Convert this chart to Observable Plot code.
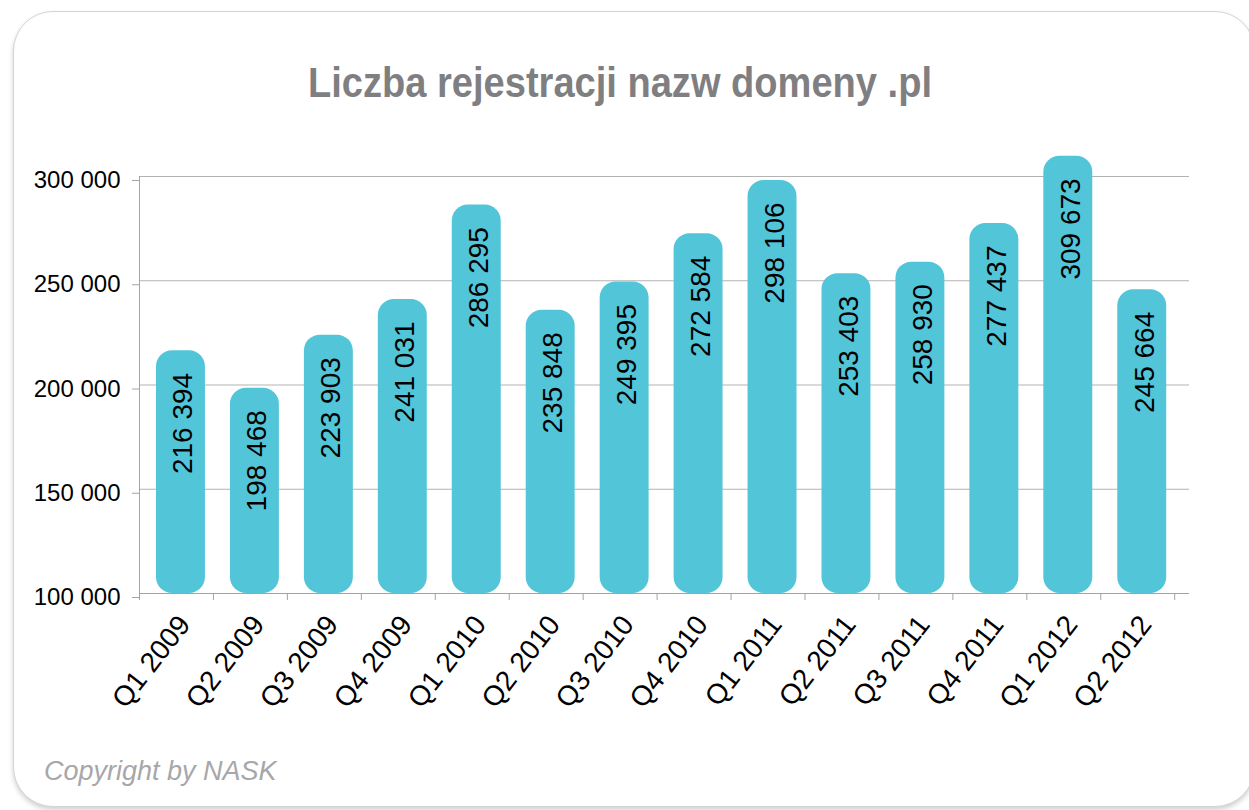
<!DOCTYPE html>
<html>
<head>
<meta charset="utf-8">
<script src="https://cdn.jsdelivr.net/npm/d3@7"></script>
<script src="https://cdn.jsdelivr.net/npm/@observablehq/plot@0.6"></script>
<style>
  html, body { margin: 0; padding: 0; background: #ffffff; width: 1249px; height: 810px; overflow: hidden; }
  #card { position: absolute; left: 13px; top: 11px; width: 1240px; height: 794px; border: 1px solid #d4d4d4; border-radius: 40px; box-shadow: 0 3px 5px rgba(0,0,0,0.18); background: #fff; }
  #title { position: absolute; left: 308px; top: 62px; font-family: "Liberation Sans", Arial, sans-serif; font-weight: bold; font-size: 42px; line-height: 42px; color: #7f7f82; white-space: nowrap; transform-origin: 0 0; }
  #chart { position: absolute; left: 0; top: 0; }
  #copy { position: absolute; left: 44px; top: 758px; font-family: "Liberation Sans", Arial, sans-serif; font-style: italic; font-size: 27px; line-height: 26px; color: #a7a7a9; white-space: nowrap; }
</style>
</head>
<body>
<div id="card"></div>
<div id="title">Liczba rejestracji nazw domeny .pl</div>
<div id="chart"></div>
<div id="copy">Copyright by NASK</div>
<script>
const categories = ["Q1 2009","Q2 2009","Q3 2009","Q4 2009","Q1 2010","Q2 2010","Q3 2010","Q4 2010","Q1 2011","Q2 2011","Q3 2011","Q4 2011","Q1 2012","Q2 2012"];
const values = [216394,198468,223903,241031,286295,235848,249395,272584,298106,253403,258930,277437,309673,245664];
const yTicks = [100000,150000,200000,250000,300000];
const yDomain = [100000, 300000];

const data = categories.map((c, i) => ({cat: c, i, value: values[i]}));
const fmt = v => d3.format(",")(v).replace(/,/g, " ");
const edges = d3.range(categories.length + 1);
const centers = categories.map((c, i) => i + 0.5);

const title = document.getElementById("title");
const tw = title.getBoundingClientRect().width;
title.style.transform = `scaleX(${624 / tw})`;

const chart = Plot.plot({
  width: 1249,
  height: 740,
  marginLeft: 139,
  marginRight: 60,
  marginTop: 176,
  marginBottom: 147,
  style: {fontFamily: "'Liberation Sans', Arial, sans-serif", fontSize: "24px", background: "transparent", color: "#000", overflow: "visible"},
  x: {type: "linear", domain: [0, categories.length + 0.2]},
  y: {domain: yDomain},
  marks: [
    Plot.gridY(yTicks.slice(1), {stroke: "#b3b3b3", strokeOpacity: 1, strokeWidth: 1}),
    Plot.ruleY([yDomain[0]], {stroke: "#a3a3a3", strokeWidth: 1}),
    Plot.ruleX([0], {y1: yDomain[0], y2: yDomain[1], stroke: "#a3a3a3", strokeWidth: 1}),
    Plot.axisY({ticks: yTicks, tickSize: 7, tickPadding: 12, tickFormat: fmt, stroke: "#a3a3a3", fill: "#000", fontSize: 24, dy: 4, label: null}),
    Plot.axisX({ticks: edges, tickSize: 7, tickFormat: () => "", stroke: "#a3a3a3", label: null}),
    Plot.axisX({ticks: centers, tickSize: 0, tickPadding: 26, tickRotate: -52, dx: 8, tickFormat: d => categories[Math.round(d - 0.5)], fill: "#000", fontSize: 28, label: null}),
    Plot.rectY(data, {x1: "i", x2: d => d.i + 1, y1: yDomain[0], y2: "value", insetLeft: 17, insetRight: 8, rx: 16, fill: "#52c5d9"}),
    Plot.text(data, {x: d => d.i + 0.5, y: "value", text: d => fmt(d.value), rotate: -90, textAnchor: "end", dy: 22, dx: 7, fontSize: 28, fill: "#000"})
  ]
});
document.getElementById("chart").appendChild(chart);
</script>
</body>
</html>
